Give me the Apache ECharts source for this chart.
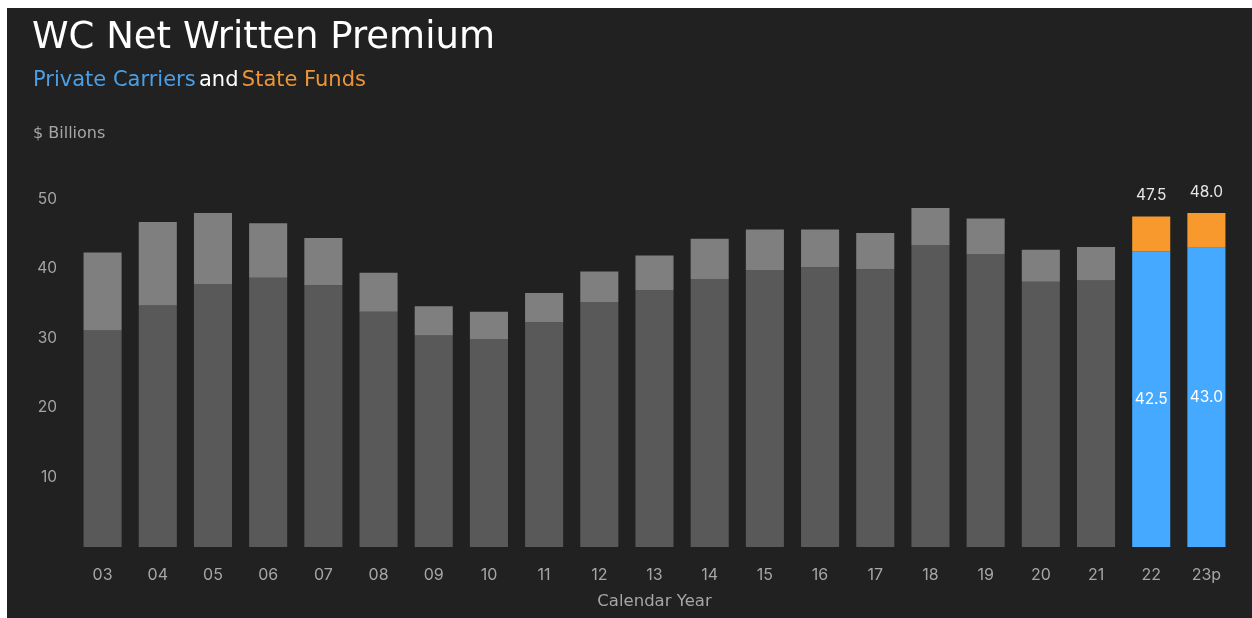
<!DOCTYPE html>
<html>
<head>
<meta charset="utf-8">
<script src="https://cdn.jsdelivr.net/npm/echarts@6/dist/echarts.min.js"></script>
<style>
  html, body { margin: 0; padding: 0; background: #ffffff; }
  #chart { position: absolute; left: 7px; top: 8px; width: 1245px; height: 610px; background: #212121; }
</style>
</head>
<body>
<div id="chart"></div>
<script>
// Calendar years (23p = projected)
const years = ['03','04','05','06','07','08','09','10','11','12','13','14','15','16','17','18','19','20','21','22','23p'];

// Private carrier net written premium, $ billions
const privateCarriers = [31.1, 34.7, 37.8, 38.7, 37.6, 33.8, 30.4, 29.9, 32.3, 35.2, 36.9, 38.5, 39.8, 40.2, 39.9, 43.4, 42.1, 38.1, 38.3, 42.5, 43.0];

// Total (private carriers + state funds), $ billions
const totals = [42.3, 46.7, 48.0, 46.5, 44.4, 39.4, 34.6, 33.8, 36.5, 39.6, 41.9, 44.3, 45.6, 45.6, 45.1, 48.7, 47.2, 42.7, 43.1, 47.5, 48.0];

// Y axis ticks
const yTicks = [0, 10, 20, 30, 40, 50];

// Highlighted (most recent) years
const highlighted = ['22', '23p'];

const stateFunds = totals.map((t, i) => +(t - privateCarriers[i]).toFixed(1));

const COLORS = {
  privDim: '#595959',
  stateDim: '#7f7f7f',
  priv: '#45aaff',
  state: '#f7992c',
  text: '#a6a6a6'
};

const isHi = i => highlighted.includes(years[i]);

const privData = privateCarriers.map((v, i) => ({
  value: v,
  itemStyle: { color: isHi(i) ? COLORS.priv : COLORS.privDim },
  label: { show: isHi(i) }
}));

const stateData = stateFunds.map((v, i) => ({
  value: v,
  itemStyle: { color: isHi(i) ? COLORS.state : COLORS.stateDim },
  label: { show: isHi(i) }
}));

const chart = echarts.init(document.getElementById('chart'), null, { renderer: 'canvas' });

const fontFamily = 'Inter, "Noto Sans", sans-serif';
const headFont = '"DejaVu Sans", Inter, sans-serif';

chart.setOption({
  backgroundColor: '#212121',
  textStyle: { fontFamily },
  animation: false,
  graphic: [
    {
      type: 'text', left: 25, top: 12,
      style: { text: 'WC Net Written Premium', fill: '#ffffff', font: '400 37px ' + headFont }
    },
    {
      type: 'text', left: 26, top: 62,
      style: {
        text: '{a|Private Carriers} {b|and} {c|State Funds}',
        rich: {
          a: { fill: '#4a9fe6', font: '400 21px ' + headFont },
          b: { fill: '#ffffff', font: '400 21px ' + headFont },
          c: { fill: '#ec9538', font: '400 21px ' + headFont }
        }
      }
    },
    {
      type: 'text', left: 26, top: 118,
      style: { text: '$ Billions', fill: COLORS.text, font: '400 16px ' + headFont }
    }
  ],
  grid: { left: 68, right: 18, top: 191, bottom: 71, containLabel: false },
  xAxis: {
    type: 'category',
    data: years,
    name: 'Calendar Year',
    nameLocation: 'middle',
    nameGap: 46,
    nameTextStyle: { color: COLORS.text, fontSize: 16.5, fontFamily: headFont },
    axisLine: { show: false },
    axisTick: { show: false },
    axisLabel: { color: COLORS.text, fontSize: 16, margin: 20 }
  },
  yAxis: {
    type: 'value',
    min: yTicks[0],
    max: yTicks[yTicks.length - 1],
    interval: yTicks[1] - yTicks[0],
    splitLine: { show: false },
    axisLine: { show: false },
    axisTick: { show: false },
    axisLabel: {
      color: COLORS.text, fontSize: 15.5, margin: 18,
      formatter: v => (v === 0 ? '' : String(v))
    }
  },
  series: [
    {
      name: 'Private Carriers',
      type: 'bar',
      stack: 'total',
      barCategoryGap: '31%',
      data: privData,
      label: {
        position: 'inside',
        color: '#ffffff',
        fontSize: 15.5,
        formatter: p => p.value.toFixed(1)
      }
    },
    {
      name: 'State Funds',
      type: 'bar',
      stack: 'total',
      data: stateData,
      label: {
        position: 'top',
        distance: 13,
        color: '#e6e6e6',
        fontSize: 15.5,
        formatter: p => totals[p.dataIndex].toFixed(1)
      }
    }
  ]
});
</script>
</body>
</html>
